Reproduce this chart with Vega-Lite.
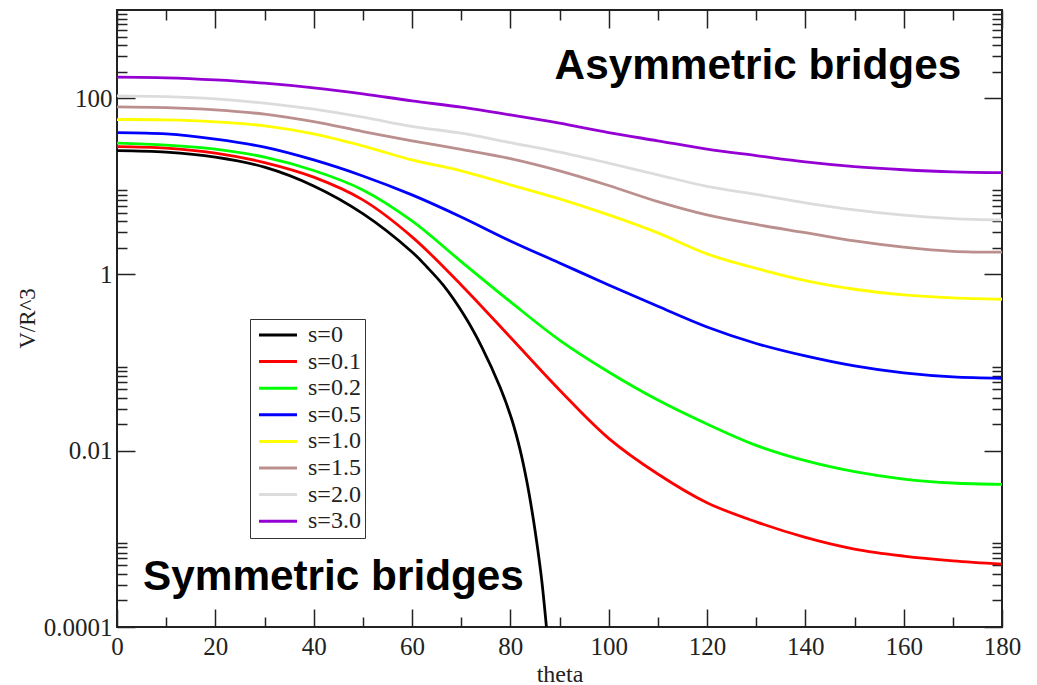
{
  "$schema": "https://vega.github.io/schema/vega-lite/v6.json",
  "width": 885,
  "height": 617,
  "autosize": {"type": "none"},
  "padding": {"left": 117, "top": 10, "right": 35, "bottom": 58},
  "background": "white",
  "config": {"view": {"stroke": "#222", "strokeWidth": 2}, "font": "Liberation Serif"},
  "data": {"values": [
    {"s": "s=0", "theta": 0, "V": 25.4}, {"s": "s=0", "theta": 10, "V": 24.4}, {"s": "s=0", "theta": 20, "V": 21.4}, {"s": "s=0", "theta": 30, "V": 16.5}, {"s": "s=0", "theta": 40, "V": 10.1}, {"s": "s=0", "theta": 50, "V": 4.9}, {"s": "s=0", "theta": 60, "V": 1.8}, {"s": "s=0", "theta": 63, "V": 1.22}, {"s": "s=0", "theta": 66.4, "V": 0.75}, {"s": "s=0", "theta": 70.8, "V": 0.331}, {"s": "s=0", "theta": 74.2, "V": 0.15}, {"s": "s=0", "theta": 77.9, "V": 0.0527}, {"s": "s=0", "theta": 80.3, "V": 0.0226}, {"s": "s=0", "theta": 82, "V": 0.01016}, {"s": "s=0", "theta": 83.3, "V": 0.00465}, {"s": "s=0", "theta": 84.5, "V": 0.00193}, {"s": "s=0", "theta": 85.5, "V": 0.000816}, {"s": "s=0", "theta": 86.4, "V": 0.000334}, {"s": "s=0", "theta": 87.4, "V": 0.0000927},
    {"s": "s=0.1", "theta": 0, "V": 28.2}, {"s": "s=0.1", "theta": 10, "V": 27.1}, {"s": "s=0.1", "theta": 20, "V": 23.8}, {"s": "s=0.1", "theta": 30, "V": 18.6}, {"s": "s=0.1", "theta": 40, "V": 12.7}, {"s": "s=0.1", "theta": 50, "V": 7.01}, {"s": "s=0.1", "theta": 60, "V": 2.67}, {"s": "s=0.1", "theta": 70, "V": 0.76}, {"s": "s=0.1", "theta": 80, "V": 0.1937}, {"s": "s=0.1", "theta": 90, "V": 0.0489}, {"s": "s=0.1", "theta": 100, "V": 0.01382}, {"s": "s=0.1", "theta": 110, "V": 0.00544}, {"s": "s=0.1", "theta": 120, "V": 0.00257}, {"s": "s=0.1", "theta": 130, "V": 0.00156}, {"s": "s=0.1", "theta": 140, "V": 0.00104}, {"s": "s=0.1", "theta": 150, "V": 0.000766}, {"s": "s=0.1", "theta": 160, "V": 0.000638}, {"s": "s=0.1", "theta": 170, "V": 0.000564}, {"s": "s=0.1", "theta": 180, "V": 0.000518},
    {"s": "s=0.2", "theta": 0, "V": 30.8}, {"s": "s=0.2", "theta": 10, "V": 29.3}, {"s": "s=0.2", "theta": 20, "V": 26.4}, {"s": "s=0.2", "theta": 30, "V": 21.4}, {"s": "s=0.2", "theta": 40, "V": 15.1}, {"s": "s=0.2", "theta": 50, "V": 9.1}, {"s": "s=0.2", "theta": 60, "V": 4.05}, {"s": "s=0.2", "theta": 70, "V": 1.4}, {"s": "s=0.2", "theta": 80, "V": 0.491}, {"s": "s=0.2", "theta": 90, "V": 0.18}, {"s": "s=0.2", "theta": 100, "V": 0.0782}, {"s": "s=0.2", "theta": 110, "V": 0.0376}, {"s": "s=0.2", "theta": 120, "V": 0.0201}, {"s": "s=0.2", "theta": 130, "V": 0.0115}, {"s": "s=0.2", "theta": 140, "V": 0.0077}, {"s": "s=0.2", "theta": 150, "V": 0.00578}, {"s": "s=0.2", "theta": 160, "V": 0.00477}, {"s": "s=0.2", "theta": 170, "V": 0.0043}, {"s": "s=0.2", "theta": 180, "V": 0.00416},
    {"s": "s=0.5", "theta": 0, "V": 40.7}, {"s": "s=0.5", "theta": 10, "V": 39.3}, {"s": "s=0.5", "theta": 20, "V": 34.3}, {"s": "s=0.5", "theta": 30, "V": 27.8}, {"s": "s=0.5", "theta": 40, "V": 19.9}, {"s": "s=0.5", "theta": 50, "V": 13.1}, {"s": "s=0.5", "theta": 60, "V": 7.99}, {"s": "s=0.5", "theta": 70, "V": 4.49}, {"s": "s=0.5", "theta": 80, "V": 2.4}, {"s": "s=0.5", "theta": 90, "V": 1.35}, {"s": "s=0.5", "theta": 100, "V": 0.76}, {"s": "s=0.5", "theta": 110, "V": 0.435}, {"s": "s=0.5", "theta": 120, "V": 0.2535}, {"s": "s=0.5", "theta": 130, "V": 0.1647}, {"s": "s=0.5", "theta": 140, "V": 0.1189}, {"s": "s=0.5", "theta": 150, "V": 0.0915}, {"s": "s=0.5", "theta": 160, "V": 0.0762}, {"s": "s=0.5", "theta": 170, "V": 0.0687}, {"s": "s=0.5", "theta": 180, "V": 0.0664},
    {"s": "s=1.0", "theta": 0, "V": 57.2}, {"s": "s=1.0", "theta": 10, "V": 56.7}, {"s": "s=1.0", "theta": 20, "V": 53.8}, {"s": "s=1.0", "theta": 30, "V": 48.5}, {"s": "s=1.0", "theta": 40, "V": 39.3}, {"s": "s=1.0", "theta": 50, "V": 28.7}, {"s": "s=1.0", "theta": 60, "V": 19.9}, {"s": "s=1.0", "theta": 70, "V": 14.96}, {"s": "s=1.0", "theta": 80, "V": 10.4}, {"s": "s=1.0", "theta": 90, "V": 7.19}, {"s": "s=1.0", "theta": 100, "V": 4.73}, {"s": "s=1.0", "theta": 110, "V": 2.96}, {"s": "s=1.0", "theta": 120, "V": 1.71}, {"s": "s=1.0", "theta": 130, "V": 1.17}, {"s": "s=1.0", "theta": 140, "V": 0.851}, {"s": "s=1.0", "theta": 150, "V": 0.679}, {"s": "s=1.0", "theta": 160, "V": 0.585}, {"s": "s=1.0", "theta": 170, "V": 0.541}, {"s": "s=1.0", "theta": 180, "V": 0.523},
    {"s": "s=1.5", "theta": 0, "V": 79.7}, {"s": "s=1.5", "theta": 10, "V": 78.2}, {"s": "s=1.5", "theta": 20, "V": 73.6}, {"s": "s=1.5", "theta": 30, "V": 65.8}, {"s": "s=1.5", "theta": 40, "V": 54.2}, {"s": "s=1.5", "theta": 50, "V": 41.8}, {"s": "s=1.5", "theta": 60, "V": 32.8}, {"s": "s=1.5", "theta": 70, "V": 26.2}, {"s": "s=1.5", "theta": 80, "V": 20.6}, {"s": "s=1.5", "theta": 90, "V": 14.96}, {"s": "s=1.5", "theta": 100, "V": 10.2}, {"s": "s=1.5", "theta": 110, "V": 6.7}, {"s": "s=1.5", "theta": 120, "V": 4.74}, {"s": "s=1.5", "theta": 130, "V": 3.69}, {"s": "s=1.5", "theta": 140, "V": 2.98}, {"s": "s=1.5", "theta": 150, "V": 2.4}, {"s": "s=1.5", "theta": 160, "V": 2.04}, {"s": "s=1.5", "theta": 170, "V": 1.83}, {"s": "s=1.5", "theta": 180, "V": 1.79},
    {"s": "s=2.0", "theta": 0, "V": 106}, {"s": "s=2.0", "theta": 10, "V": 104}, {"s": "s=2.0", "theta": 20, "V": 98}, {"s": "s=2.0", "theta": 30, "V": 87.7}, {"s": "s=2.0", "theta": 40, "V": 75}, {"s": "s=2.0", "theta": 50, "V": 60.8}, {"s": "s=2.0", "theta": 60, "V": 47.8}, {"s": "s=2.0", "theta": 70, "V": 40}, {"s": "s=2.0", "theta": 80, "V": 31.3}, {"s": "s=2.0", "theta": 90, "V": 24.4}, {"s": "s=2.0", "theta": 100, "V": 18.3}, {"s": "s=2.0", "theta": 110, "V": 13.5}, {"s": "s=2.0", "theta": 120, "V": 9.97}, {"s": "s=2.0", "theta": 130, "V": 8.09}, {"s": "s=2.0", "theta": 140, "V": 6.5}, {"s": "s=2.0", "theta": 150, "V": 5.4}, {"s": "s=2.0", "theta": 160, "V": 4.7}, {"s": "s=2.0", "theta": 170, "V": 4.3}, {"s": "s=2.0", "theta": 180, "V": 4.15},
    {"s": "s=3.0", "theta": 0, "V": 173}, {"s": "s=3.0", "theta": 10, "V": 170}, {"s": "s=3.0", "theta": 20, "V": 161}, {"s": "s=3.0", "theta": 30, "V": 148}, {"s": "s=3.0", "theta": 40, "V": 131}, {"s": "s=3.0", "theta": 50, "V": 112}, {"s": "s=3.0", "theta": 60, "V": 93}, {"s": "s=3.0", "theta": 70, "V": 79}, {"s": "s=3.0", "theta": 80, "V": 64.6}, {"s": "s=3.0", "theta": 90, "V": 52}, {"s": "s=3.0", "theta": 100, "V": 40.7}, {"s": "s=3.0", "theta": 110, "V": 32.8}, {"s": "s=3.0", "theta": 120, "V": 26.4}, {"s": "s=3.0", "theta": 130, "V": 22.3}, {"s": "s=3.0", "theta": 140, "V": 18.9}, {"s": "s=3.0", "theta": 150, "V": 16.7}, {"s": "s=3.0", "theta": 160, "V": 15.4}, {"s": "s=3.0", "theta": 170, "V": 14.6}, {"s": "s=3.0", "theta": 180, "V": 14.3}
  ]},
  "layer": [
    {
      "mark": {"type": "line", "strokeWidth": 2.8, "clip": true, "interpolate": "catmull-rom"},
      "encoding": {
        "x": {"field": "theta", "type": "quantitative",
          "scale": {"domain": [0, 180], "nice": false, "zero": false},
          "axis": {"orient": "bottom", "values": [0, 20, 40, 60, 80, 100, 120, 140, 160, 180], "ticks": false, "tickSize": 0, "domain": false, "grid": false,
            "labelFont": "Liberation Serif", "labelFontSize": 25, "labelColor": "#222", "labelPadding": 7, "labelFlush": false,
            "title": "theta", "titleFont": "Liberation Serif", "titleFontSize": 24, "titleFontWeight": "normal", "titleColor": "#222",
            "titleX": 442.5, "titleY": 54, "titleAlign": "center", "titleBaseline": "alphabetic"}},
        "y": {"field": "V", "type": "quantitative",
          "scale": {"type": "log", "domain": [0.0001, 1000], "nice": false},
          "axis": {"orient": "left", "values": [0.0001, 0.01, 1, 100], "format": ".4~f", "ticks": false, "tickSize": 0, "domain": false, "grid": false,
            "labelFont": "Liberation Serif", "labelFontSize": 25, "labelColor": "#222", "labelPadding": 5, "labelFlush": false,
            "title": "V/R^3", "titleFont": "Liberation Serif", "titleFontSize": 23, "titleFontWeight": "normal", "titleColor": "#222",
            "titleAngle": -90, "titleX": -83, "titleY": 308, "titleAlign": "center", "titleBaseline": "alphabetic"}},
        "color": {"field": "s", "type": "nominal",
          "scale": {"domain": ["s=0", "s=0.1", "s=0.2", "s=0.5", "s=1.0", "s=1.5", "s=2.0", "s=3.0"],
                    "range": ["#000000", "#ff0000", "#00ff00", "#0000ff", "#ffff00", "#bc8f8f", "#dcdcdc", "#9400d3"]},
          "legend": {"orient": "none", "legendX": 133, "legendY": 309, "title": null, "direction": "vertical",
            "strokeColor": "#333", "fillColor": "white", "padding": 4, "rowPadding": 2.6,
            "symbolType": "M-2.11,0H2.11", "symbolSize": 324, "symbolStrokeWidth": 3, "symbolOffset": 12,
            "labelOffset": 18, "labelFont": "Liberation Serif", "labelFontSize": 24, "labelColor": "#222"}}
      }
    },
    {
      "mark": {"type": "point", "opacity": 0},
      "encoding": {
        "x": {"field": "theta", "type": "quantitative", "scale": {"domain": [0, 180], "nice": false, "zero": false},
          "axis": {"orient": "bottom", "values": [0, 10, 20, 30, 40, 50, 60, 70, 80, 90, 100, 110, 120, 130, 140, 150, 160, 170, 180],
            "labels": false, "domain": false, "grid": false, "title": null, "tickColor": "#222", "tickWidth": 1.5,
            "tickSize": {"condition": {"test": "datum.value % 20 == 0", "value": -18}, "value": -10}}},
        "y": {"field": "V", "type": "quantitative", "scale": {"type": "log", "domain": [0.0001, 1000], "nice": false},
          "axis": {"orient": "left", "values": [0.0001, 0.0002, 0.0003, 0.0004, 0.0005, 0.0006, 0.0007, 0.0008, 0.0009, 0.01, 0.02, 0.03, 0.04, 0.05, 0.06, 0.07, 0.08, 0.09, 1, 2, 3, 4, 5, 6, 7, 8, 9, 100, 200, 300, 400, 500, 600, 700, 800, 900],
            "labels": false, "domain": false, "grid": false, "title": null, "tickColor": "#222", "tickWidth": 1.5,
            "tickSize": {"condition": {"test": "datum.value == 0.0001 || datum.value == 0.01 || datum.value == 1 || datum.value == 100", "value": -18}, "value": -10}}}
      }
    },
    {
      "mark": {"type": "point", "opacity": 0},
      "encoding": {
        "x": {"field": "theta", "type": "quantitative", "scale": {"domain": [0, 180], "nice": false, "zero": false},
          "axis": {"orient": "top", "values": [0, 10, 20, 30, 40, 50, 60, 70, 80, 90, 100, 110, 120, 130, 140, 150, 160, 170, 180],
            "labels": false, "domain": false, "grid": false, "title": null, "tickColor": "#222", "tickWidth": 1.5,
            "tickSize": {"condition": {"test": "datum.value % 20 == 0", "value": -18}, "value": -10}}},
        "y": {"field": "V", "type": "quantitative", "scale": {"type": "log", "domain": [0.0001, 1000], "nice": false},
          "axis": {"orient": "right", "values": [0.0001, 0.0002, 0.0003, 0.0004, 0.0005, 0.0006, 0.0007, 0.0008, 0.0009, 0.01, 0.02, 0.03, 0.04, 0.05, 0.06, 0.07, 0.08, 0.09, 1, 2, 3, 4, 5, 6, 7, 8, 9, 100, 200, 300, 400, 500, 600, 700, 800, 900],
            "labels": false, "domain": false, "grid": false, "title": null, "tickColor": "#222", "tickWidth": 1.5,
            "tickSize": {"condition": {"test": "datum.value == 0.0001 || datum.value == 0.01 || datum.value == 1 || datum.value == 100", "value": -18}, "value": -10}}}
      }
    },
    {
      "data": {"values": [{"label": "Asymmetric bridges"}]},
      "mark": {"type": "text", "font": "Liberation Sans", "fontWeight": "bold", "fontSize": 42.3, "align": "left", "baseline": "alphabetic", "color": "#000"},
      "encoding": {
        "x": {"datum": 89.0, "type": "quantitative", "axis": null},
        "y": {"datum": 166, "type": "quantitative", "axis": null},
        "text": {"field": "label"}
      }
    },
    {
      "data": {"values": [{"label": "Symmetric bridges"}]},
      "mark": {"type": "text", "font": "Liberation Sans", "fontWeight": "bold", "fontSize": 42.3, "align": "left", "baseline": "alphabetic", "color": "#000"},
      "encoding": {
        "x": {"datum": 5.3, "type": "quantitative", "axis": null},
        "y": {"datum": 0.0002657, "type": "quantitative", "axis": null},
        "text": {"field": "label"}
      }
    }
  ],
  "resolve": {"axis": {"x": "independent", "y": "independent"}}
}
